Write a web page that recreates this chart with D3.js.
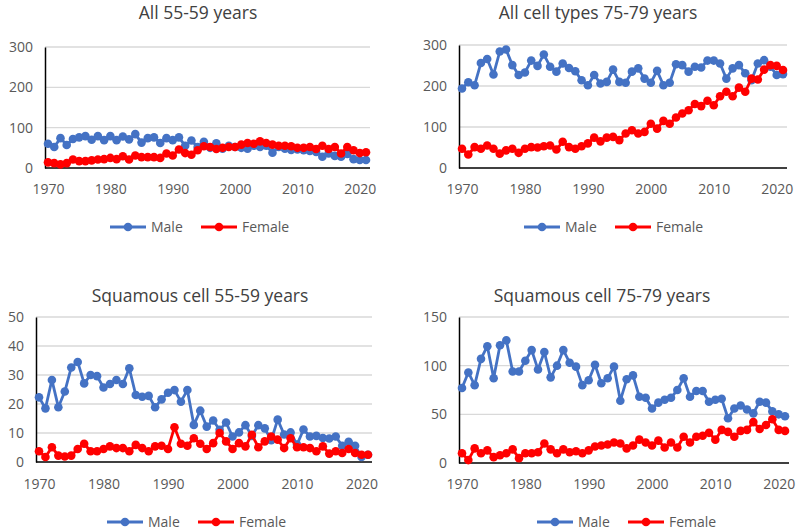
<!DOCTYPE html>
<html><head><meta charset="utf-8">
<script src="https://cdn.jsdelivr.net/npm/d3@7"></script>
<style>body{margin:0;background:#fff}svg{display:block}</style>
</head><body>
<svg id="c" width="800" height="530"></svg>
<script>
const years = d3.range(1970, 2022);
const xTicks = [1970, 1980, 1990, 2000, 2010, 2020];
const seriesNames = ["Male", "Female"];
const titles = ["All 55-59 years", "All cell types 75-79 years", "Squamous cell 55-59 years", "Squamous cell 75-79 years"];
const yTicks1 = [0, 100, 200, 300];
const yTicks2 = [0, 100, 200, 300];
const yTicks3 = [0, 10, 20, 30, 40, 50];
const yTicks4 = [0, 50, 100, 150];

const all5559Male = [60,52,74,57,72,76,79,70,79,69,79,69,78,71,84,63,74,76,62,74,69,76,55,68,52,65,50,61,48,55,52,50,48,55,52,55,38,52,48,45,46,44,42,40,28,36,30,28,35,22,20,20];
const all5559Female = [14,12,9,12,21,17,17,19,21,22,25,22,29,21,31,27,27,27,25,36,31,46,37,33,44,54,52,47,50,52,52,58,62,60,66,62,58,55,55,54,50,50,52,47,55,47,52,36,52,44,37,39];
const all7579Male = [194,209,202,256,266,228,284,289,251,227,233,262,249,277,247,235,255,244,236,214,202,227,206,210,240,210,208,235,243,218,208,237,202,208,253,251,235,247,245,262,262,255,218,243,251,231,214,255,263,247,227,229];
const all7579Female = [47,33,51,47,55,47,35,43,47,37,47,51,50,53,55,45,64,51,47,53,60,74,65,74,76,68,84,92,84,88,108,96,115,108,123,133,141,156,151,164,153,175,186,175,196,186,218,216,240,251,249,239];
const sq5559Male = [22.3,18.5,28.3,18.9,24.3,32.6,34.5,27.1,30,29.6,25.7,26.9,28.3,26.9,32.3,23.1,22.5,22.8,18.9,21.6,23.9,24.8,20.8,24.8,12.8,17.7,12.2,14.3,11.1,13.6,8.8,10.2,12.7,9,12.7,11.6,7.5,14.6,9.5,10.2,6,11.2,8.8,9,8.3,8.1,8.8,5.6,7,5.6,1.7,2.5];
const sq5559Female = [3.7,1.7,5.1,2.2,1.9,2.2,4.5,6.3,3.7,3.7,4.5,5.4,4.8,4.8,3.7,5.9,4.8,3.7,5.4,5.6,4.5,12,6.3,5.6,8.2,6.3,4.5,6.5,10,7.1,4.5,6.5,5.4,9.4,5.1,7.1,8.8,7.7,4.8,8.2,5.1,5.1,4.8,3.7,5.4,2.9,3.7,3.1,4.5,3.1,2.5,2.5];
const sq7579Male = [77,93,80,107,120,87,121,126,94,94,105,116,96,114,88,100,116,103,99,80,85,101,82,87,99,64,86,90,68,67,56,62,65,67,75,87,68,74,74,63,65,66,46,56,59,55,51,63,62,53,50,48];
const sq7579Female = [10,3,15,10,13,6,8,10,14,5,10,10,11,20,14,10,14,11,12,10,13,17,18,19,21,20,15,18,24,21,18,23,16,21,16,27,21,27,28,31,24,34,32,27,33,34,42,35,39,45,34,33];

const colors = ["#4472C4", "#FF0000"];
const font = "'Open Sans', 'Noto Sans', sans-serif";
const svg = d3.select("#c");

const panels = [
  {title: titles[0], male: all5559Male, female: all5559Female, ticks: yTicks1,
   x0: 45, x1: 370, yTop: 47, yBot: 168, titleX: 198, titleY: 19, xLabY: 189, legY: 227, legX: 110},
  {title: titles[1], male: all7579Male, female: all7579Female, ticks: yTicks2,
   x0: 459, x1: 787, yTop: 45, yBot: 168, titleX: 598, titleY: 19, xLabY: 189, legY: 227, legX: 524},
  {title: titles[2], male: sq5559Male, female: sq5559Female, ticks: yTicks3,
   x0: 36, x1: 372, yTop: 317, yBot: 462, titleX: 200, titleY: 302, xLabY: 484, legY: 522, legX: 107},
  {title: titles[3], male: sq7579Male, female: sq7579Female, ticks: yTicks4,
   x0: 459, x1: 789, yTop: 317, yBot: 463, titleX: 602, titleY: 302, xLabY: 484, legY: 522, legX: 537}
];

panels.forEach(p => {
  const g = svg.append("g");
  const x = d3.scaleLinear().domain([1970, 2021]).range([p.x0 + 3, p.x1 - 4]);
  const y = d3.scaleLinear().domain([0, d3.max(p.ticks)]).range([p.yBot, p.yTop]);

  g.append("text").attr("x", p.titleX).attr("y", p.titleY).attr("text-anchor", "middle")
    .attr("font-family", font).attr("font-size", 17.5).attr("fill", "#404040").text(p.title);

  g.selectAll(".grid").data(p.ticks.filter(t => t > 0)).join("line")
    .attr("x1", p.x0).attr("x2", p.x1).attr("y1", d => y(d)).attr("y2", d => y(d))
    .attr("stroke", "#d9d9d9").attr("stroke-width", 1.3);

  const ya = g.append("g").attr("transform", `translate(${p.x0},0)`)
    .call(d3.axisLeft(y).tickValues(p.ticks).tickSize(0).tickPadding(12).tickFormat(d3.format("d")));
  ya.select(".domain").attr("stroke", "#000").attr("stroke-width", 1.5);
  ya.selectAll("text").attr("font-family", font).attr("font-size", 14).attr("fill", "#595959");

  const xa = g.append("g").attr("transform", `translate(0,${p.yBot})`)
    .call(d3.axisBottom(x).tickValues(xTicks).tickSize(0).tickPadding(0).tickFormat(d3.format("d")));
  xa.select(".domain").attr("d", `M${p.x0},0H${p.x1}`).attr("stroke", "#000").attr("stroke-width", 1.5);
  xa.selectAll("text").attr("font-family", font).attr("font-size", 14).attr("fill", "#595959")
    .attr("dy", null).attr("y", p.xLabY - p.yBot + 5);

  const line = d3.line().x((d, i) => x(years[i])).y(d => y(d));
  [p.male, p.female].forEach((vals, si) => {
    g.append("path").datum(vals).attr("d", line).attr("fill", "none")
      .attr("stroke", colors[si]).attr("stroke-width", 2.8).attr("stroke-linejoin", "round");
    g.selectAll(null).data(vals).join("circle")
      .attr("cx", (d, i) => x(years[i])).attr("cy", d => y(d)).attr("r", 4.3)
      .attr("fill", colors[si]);
  });

  const lg = g.append("g").attr("transform", `translate(${p.legX},${p.legY})`);
  seriesNames.forEach((name, si) => {
    const off = si === 0 ? 0 : 91;
    lg.append("line").attr("x1", off).attr("x2", off + 36).attr("y1", 0).attr("y2", 0)
      .attr("stroke", colors[si]).attr("stroke-width", 2.8);
    lg.append("circle").attr("cx", off + 18).attr("cy", 0).attr("r", 4.3).attr("fill", colors[si]);
    lg.append("text").attr("x", off + 41).attr("y", 5).attr("font-family", font)
      .attr("font-size", 14).attr("fill", "#595959").text(name);
  });
});
</script>
</body></html>
